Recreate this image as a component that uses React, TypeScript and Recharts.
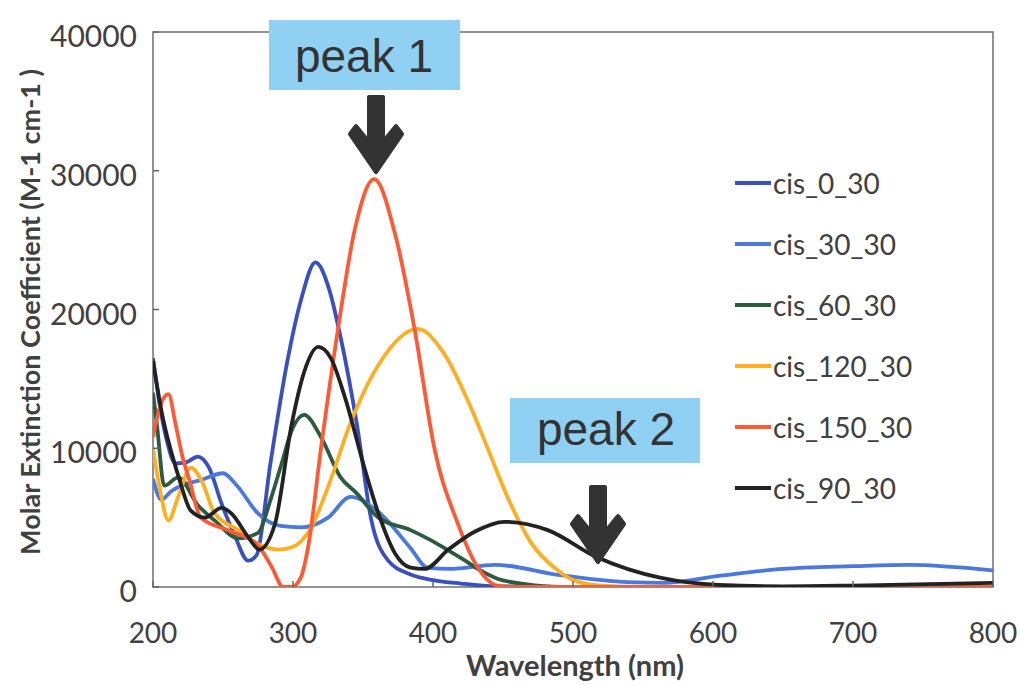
import { LineChart, Line, XAxis, YAxis, Legend, ReferenceArea } from 'recharts';

// wavelengths (nm) and molar extinction values
const cis0Wl = [200, 205, 210, 216, 224, 232, 240, 249, 258, 268, 274, 284, 296, 306, 316, 326, 334, 346, 356, 368, 384, 400, 420, 445, 500, 800];
const cis0Abs = [16500, 13000, 10500, 8900, 9000, 9400, 8600, 6000, 3800, 1900, 2300, 9000, 16300, 20800, 23400, 21400, 18000, 11500, 4800, 1900, 900, 500, 250, 50, 0, 0];

const cis30Wl = [200, 206, 213, 220, 234, 250, 260, 275, 291, 306, 325, 341, 361, 384, 396, 412, 444, 491, 539, 565, 604, 650, 700, 740, 800];
const cis30Abs = [7800, 6300, 6900, 7300, 7700, 8200, 7300, 5300, 4400, 4300, 5000, 6500, 5400, 2800, 1400, 1300, 1600, 850, 350, 300, 800, 1300, 1500, 1600, 1200];

const cis60Wl = [200, 203, 208, 218, 232, 244, 261, 275, 284, 291, 300, 308, 320, 334, 345, 361, 384, 398, 410, 423, 432, 446, 466, 490, 800];
const cis60Abs = [14000, 11500, 7300, 7900, 5900, 4800, 3500, 3900, 6300, 8600, 11500, 12400, 10800, 7900, 6800, 5000, 4100, 3400, 2700, 1900, 1300, 600, 200, 0, 0];

const cis120Wl = [200, 205, 211, 218, 227, 235, 244, 261, 275, 290, 300, 313, 325, 341, 361, 389, 408, 425, 439, 454, 470, 489, 500, 520, 550, 800];
const cis120Abs = [10000, 7000, 4800, 6500, 8600, 7600, 5300, 4100, 3100, 2700, 2900, 4300, 7200, 11800, 16000, 18600, 16800, 13400, 10000, 6300, 3200, 1200, 500, 100, 0, 0];

const cis150Wl = [200, 205, 211, 216, 221, 226, 234, 256, 275, 285, 293, 299, 306, 311, 320, 332, 344, 358, 373, 387, 401, 418, 432, 446, 460, 800];
const cis150Abs = [10800, 13000, 13900, 11800, 9400, 7700, 5000, 4000, 3000, 1400, 0, 0, 800, 3000, 10000, 18500, 25700, 29400, 25400, 18500, 10000, 4500, 1400, 100, 0, 0];

const cis90Wl = [200, 207, 214, 219, 227, 237, 249, 256, 268, 276, 287, 299, 308, 318, 327, 337, 351, 361, 373, 384, 394, 411, 430, 451, 482, 516, 563, 604, 650, 700, 800];
const cis90Abs = [16300, 12200, 9400, 7700, 5500, 5000, 5700, 5300, 3600, 2700, 4500, 11700, 15500, 17300, 16500, 13700, 8600, 5300, 2400, 1400, 1300, 2700, 4000, 4700, 4100, 2200, 650, 150, 50, 100, 300];

const X_TICKS = [200, 300, 400, 500, 600, 700, 800];
const Y_TICKS = [0, 10000, 20000, 30000, 40000];

const toPoints = (wl: number[], abs: number[]) => wl.map((x, i) => ({ x, y: abs[i] }));

const SERIES = [
  { name: 'cis_0_30', data: toPoints(cis0Wl, cis0Abs), color: '#3a4fc2' },
  { name: 'cis_30_30', data: toPoints(cis30Wl, cis30Abs), color: '#4a78de' },
  { name: 'cis_60_30', data: toPoints(cis60Wl, cis60Abs), color: '#2c5b40' },
  { name: 'cis_120_30', data: toPoints(cis120Wl, cis120Abs), color: '#ffae22' },
  { name: 'cis_150_30', data: toPoints(cis150Wl, cis150Abs), color: '#ff5a36' },
  { name: 'cis_90_30', data: toPoints(cis90Wl, cis90Abs), color: '#222222' },
];
const ORDER = SERIES.map((s) => s.name);

const TEXT = '#404040';
const FONT = 'Lato, "Open Sans", sans-serif';

const XTick = ({ x, y, payload }: any) => (
  <g>
    <line x1={x} x2={x} y1={y} y2={y - 6} stroke="#666" strokeWidth={1.5} />
    <text x={x} y={y + 45} textAnchor="middle" dominantBaseline="central" fontSize={28} fill={TEXT} fontFamily={FONT}>
      {payload.value}
    </text>
  </g>
);

const YTick = ({ x, y, payload }: any) => (
  <g>
    <line x1={x} x2={x + 6} y1={y} y2={y} stroke="#666" strokeWidth={1.5} />
    <text x={x - 16} y={y + 3} textAnchor="end" dominantBaseline="central" fontSize={30} fill={TEXT} fontFamily={FONT}>
      {payload.value}
    </text>
  </g>
);

const renderLegend = ({ payload }: any) => {
  const items = [...payload].sort((a: any, b: any) => ORDER.indexOf(a.value) - ORDER.indexOf(b.value));
  return (
    <div>
      {items.map((p: any) => (
        <div key={p.value} style={{ display: 'flex', alignItems: 'center', height: 61 }}>
          <div style={{ width: 36, height: 4, background: p.color, marginRight: 2 }} />
          <span style={{ fontSize: 28, color: TEXT, fontFamily: FONT }}>{p.value}</span>
        </div>
      ))}
    </div>
  );
};

// arrow glyph pointing down, cx = centre, top = shaft top
const arrowPath = (cx: number, top: number) =>
  `M${cx - 7},${top} L${cx + 7},${top} L${cx + 7},${top + 45} L${cx + 20},${top + 29} L${cx + 26},${top + 37} L${cx},${top + 75} L${cx - 26},${top + 37} L${cx - 20},${top + 29} L${cx - 7},${top + 45} Z`;

export default function App() {
  return (
    <div style={{ position: 'absolute', left: 0, top: 0, width: 1019, height: 685, overflow: 'hidden', background: '#fff', fontFamily: FONT }}>
      <LineChart width={1019} height={685} margin={{ top: 32, right: 26, bottom: 68, left: 93 }}>
        <XAxis
          type="number"
          dataKey="x"
          domain={[200, 800]}
          ticks={X_TICKS}
          axisLine={false}
          tickLine={false}
          tickSize={0}
          tickMargin={0}
          tick={<XTick />}
          allowDataOverflow
        />
        <YAxis
          type="number"
          domain={[0, 40000]}
          ticks={Y_TICKS}
          width={60}
          axisLine={false}
          tickLine={false}
          tickSize={0}
          tickMargin={0}
          tick={<YTick />}
          allowDataOverflow
        />
        <ReferenceArea x1={200} x2={800} y1={0} y2={40000} fill="none" stroke="#707070" strokeWidth={1.5} />
        <Legend
          layout="vertical"
          align="center"
          verticalAlign="middle"
          content={renderLegend}
          wrapperStyle={{ left: 735, top: 152, width: 220, bottom: 'auto' }}
        />
        {SERIES.map((s) => (
          <Line
            key={s.name}
            name={s.name}
            data={s.data}
            dataKey="y"
            type="monotone"
            stroke={s.color}
            strokeWidth={3.8}
            dot={false}
            isAnimationActive={false}
          />
        ))}
      </LineChart>

      <svg width={1019} height={685} style={{ position: 'absolute', left: 0, top: 0, pointerEvents: 'none' }}>
        <text
          transform="translate(29,312) rotate(-90)"
          textAnchor="middle"
          dominantBaseline="central"
          fontSize={27}
          fontWeight="bold"
          fill={TEXT}
          fontFamily={FONT}
        >
          Molar Extinction Coefficient (M-1 cm-1 )
        </text>
        <text x={575} y={664} textAnchor="middle" dominantBaseline="central" fontSize={29} fontWeight="bold" fill={TEXT} fontFamily={FONT}>
          Wavelength (nm)
        </text>

        <rect x={269} y={20} width={191} height={70} fill="#90d0f2" />
        <text x={364} y={72} textAnchor="middle" fontSize={46} fill="#333" fontFamily='"Liberation Sans", Arial, sans-serif'>
          peak 1
        </text>
        <path d={arrowPath(376, 97)} fill="#333" stroke="#333" strokeWidth={4} strokeLinejoin="round" />

        <rect x={510} y={398} width={190} height={65} fill="#90d0f2" />
        <text x={606} y={445} textAnchor="middle" fontSize={46} fill="#333" fontFamily='"Liberation Sans", Arial, sans-serif'>
          peak 2
        </text>
        <path d={arrowPath(598, 487)} fill="#333" stroke="#333" strokeWidth={4} strokeLinejoin="round" />
      </svg>
    </div>
  );
}
